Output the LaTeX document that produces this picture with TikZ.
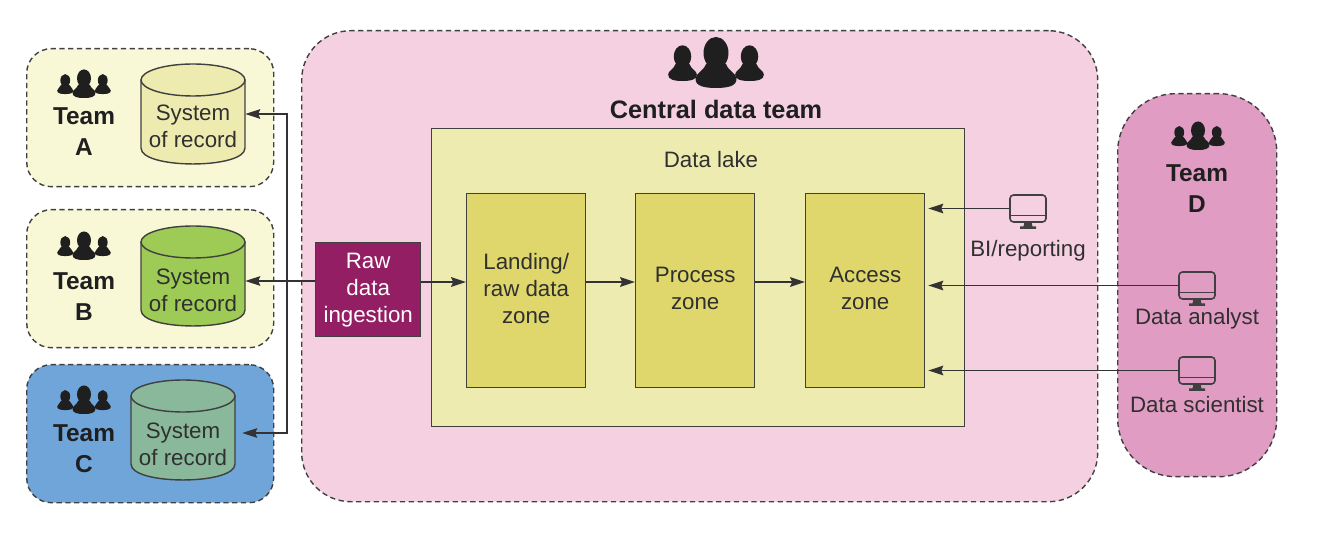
\documentclass[tikz,border=0pt]{standalone}
\usepackage{fontspec}
\setmainfont{Liberation Sans}
\usetikzlibrary{arrows.meta}
\newcommand{\px}{0.02cm}
\definecolor{inkgray}{HTML}{303030}
\definecolor{softyellow}{HTML}{F9F8D6}
\definecolor{softblue}{HTML}{6FA5D8}
\definecolor{softpink}{HTML}{F5D0E0}
\definecolor{teampink}{HTML}{E09CC3}
\definecolor{rawpurple}{HTML}{941E63}
\definecolor{lakeyellow}{HTML}{EEEBB0}
\definecolor{zoneyellow}{HTML}{E0D76C}
\definecolor{cylgreen}{HTML}{9DCB55}
\definecolor{cylteal}{HTML}{8AB89A}
\newcommand{\personshape}{
    \fill[black!88] (0,-35) ellipse [x radius=12.5, y radius=16];
    \fill[black!88] (-20.5,-9) .. controls (-20.5,-15) and (-13,-16) .. (-10,-24) -- (10,-24) .. controls (13,-16) and (20.5,-15) .. (20.5,-9) .. controls (20.5,-2) and (12,0) .. (0,0) .. controls (-12,0) and (-20.5,-2) .. (-20.5,-9) -- cycle;
}
\tikzset{
    teamicon/.pic={
        \begin{scope}[shift={(-33.5,-7)},scale=.7]\personshape\end{scope}
        \begin{scope}[shift={(33.5,-7)},scale=.7]\personshape\end{scope}
        \personshape
    },
    monitor/.pic={
        \node[screen] (-screen) at (0,0) {};
        \draw[black!75, line width=.9pt] (-17.5,7) -- (17.5,7);
        \fill[black!75] (-3.5,13.5) -- (3.5,13.5) -- (4.5,18) -- (8,18) -- (8,20.5) -- (-8,20.5) -- (-8,18) -- (-4.5,18) -- cycle;
    },
    recordcyl/.pic={
        \draw[draw=black!75, fill=#1, line width=.8pt] (-52,-34) -- (-52,34) .. controls (-52,55.3) and (52,55.3) .. (52,34) -- (52,-34) -- cycle;
        \draw[draw=black!75, fill=#1, line width=.8pt] (0,-34) ellipse [x radius=52, y radius=16];
        \node[minimum width=104*\px, minimum height=100*\px, inner sep=0pt] (-body) at (0,0) {};
    }
}

\begin{document}
\begin{tikzpicture}[x=\px, y=-\px, font=\fontsize{12.7}{15.4}\selectfont, text=inkgray,
    screen/.style={draw=black!75, line width=.9pt, rounded corners=2pt, minimum width=36*\px, minimum height=27*\px, inner sep=0pt},
    groupbox/.style={draw=black!75, line width=.8pt, dash pattern=on 3pt off 2pt, anchor=north west, inner sep=0pt},
    teambox/.style={groupbox, rounded corners=14pt, minimum width=247*\px, minimum height=138*\px},
    zone/.style={draw=black!75, line width=.8pt, fill=zoneyellow, anchor=north west, minimum width=119*\px, minimum height=194*\px, align=center, inner sep=0pt, text depth=2.2pt},
    recordtext/.style={align=center, inner sep=0pt},
    teamname/.style={font=\fontsize{13.9}{17.6}\selectfont\bfseries, align=center, text=black!88},
    flow/.style={draw=black!80, line width=.8pt, -{Stealth[length=8.5pt, width=5.5pt, inset=1.2pt]}}]

    \useasboundingbox (0,0) rectangle (1318,543);

    % Team boxes
    \node[teambox, fill=softyellow] (teama) at (26,48) {};
    \node[teambox, fill=softyellow] (teamb) at (26,209) {};
    \node[teambox, fill=softblue] (teamc) at (26,364) {};
    \node[groupbox, fill=softpink, rounded corners=28pt, minimum width=796*\px, minimum height=471*\px] (central) at (301,30) {};
    \node[groupbox, fill=teampink, rounded corners=33pt, minimum width=159*\px, minimum height=383*\px] (teamd) at (1117,93) {};

    \pic[scale=.56] at (84,98) {teamicon};
    \pic[scale=.56] at (84,260) {teamicon};
    \pic[scale=.56] at (84,414) {teamicon};
    \pic[scale=.56] at (1198,150) {teamicon};
    \pic at (716,88) {teamicon};

    \node[teamname] (namea) at (84,132) {Team\\A};
    \node[teamname] (nameb) at (84,297) {Team\\B};
    \node[teamname] (namec) at (84,449) {Team\\C};
    \node[teamname] (named) at (1197,189) {Team\\D};
    \node[teamname, font=\fontsize{14.4}{17}\selectfont\bfseries] (namecentral) at (716,109) {Central data team};

    % Systems of record
    \pic (cyla) at (193,114) {recordcyl=lakeyellow};
    \pic (cylb) at (193,276) {recordcyl=cylgreen};
    \pic (cylc) at (183,430) {recordcyl=cylteal};
    \node[recordtext] (reca) at (193,126) {System\\of record};
    \node[recordtext] (recb) at (193,290.5) {System\\of record};
    \node[recordtext] (recc) at (183,444) {System\\of record};

    % Data lake
    \node[draw=black!75, line width=.8pt, fill=lakeyellow, anchor=north west, minimum width=533*\px, minimum height=298*\px, inner sep=0pt] (lake) at (431,128) {};
    \node (laketitle) at (711,160) {Data lake};
    \node[zone] (landing) at (466,193) {Landing/\\raw data\\zone};
    \node[zone] (process) at (635,193) {Process\\zone};
    \node[zone] (access) at (805,193) {Access\\zone};

    \node[draw=black!75, line width=.8pt, fill=rawpurple, text=white, anchor=north west, minimum width=105*\px, minimum height=94*\px, align=center, inner sep=0pt] (raw) at (315,242) {Raw\\data\\ingestion};

    % Consumers
    \pic (bipc) at (1028,208.5) {monitor};
    \pic (analystpc) at (1197,285.5) {monitor};
    \pic (scientistpc) at (1197,370.5) {monitor};
    \node (bilabel) at (1028,251) {BI/reporting};
    \node (analystlabel) at (1197,319) {Data analyst};
    \node (scientistlabel) at (1197,405) {Data scientist};

    % Connectors
    \coordinate (flowline) at (0,282);
    \coordinate (busjoin) at (287,281);
    \draw[flow] (raw.west |- busjoin) -- (cylb-body.east |- busjoin);
    \draw[flow] (busjoin) |- (cyla-body.east);
    \draw[flow, shorten >=7*\px] (busjoin) |- ([yshift=-3*\px]cylc-body.east);
    \draw[flow] (raw.east |- flowline) -- (landing.west |- flowline);
    \draw[flow] (landing.east |- flowline) -- (process.west |- flowline);
    \draw[flow] (process.east |- flowline) -- (access.west |- flowline);
    \draw[flow, shorten >=3*\px] (bipc-screen.west) -- (access.east |- bipc-screen.west);
    \draw[flow, shorten >=3*\px] (analystpc-screen.west) -- (access.east |- analystpc-screen.west);
    \draw[flow, shorten >=3*\px] (scientistpc-screen.west) -- (access.east |- scientistpc-screen.west);
\end{tikzpicture}
\end{document}
